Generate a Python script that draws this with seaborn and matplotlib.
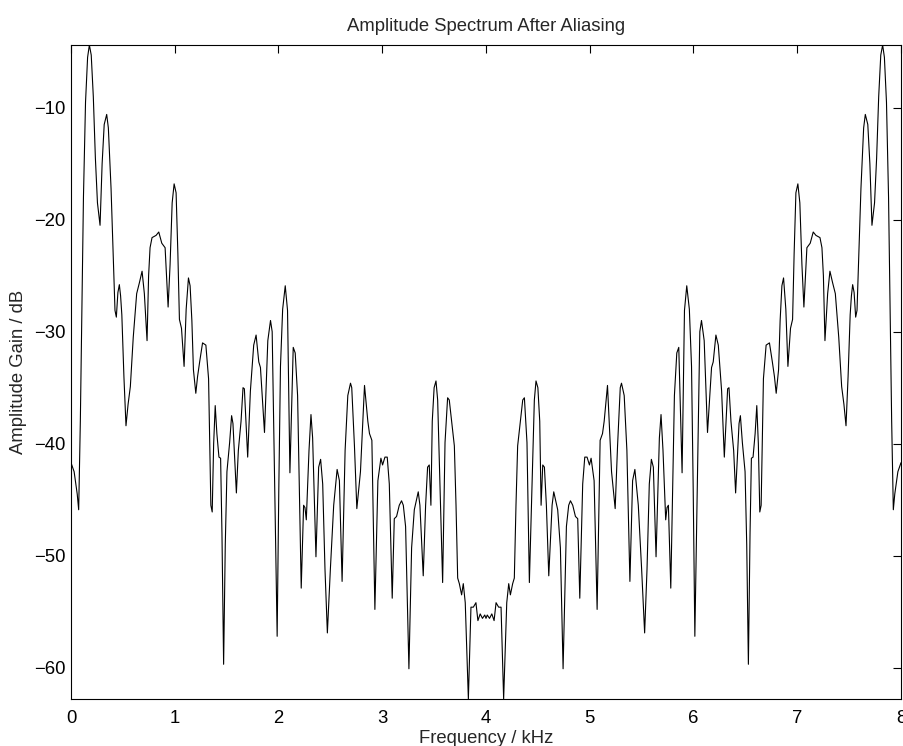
import numpy as np
import pandas as pd
import matplotlib
matplotlib.use("Agg")
import matplotlib.pyplot as plt
import seaborn as sns

# ---- data (kHz, dB) ----
freq_low = [0.000, 0.030, 0.060, 0.074, 0.090, 0.105, 0.120, 0.140, 0.160, 0.177,
            0.195, 0.215, 0.235, 0.255, 0.280, 0.300, 0.320, 0.344, 0.360, 0.386,
            0.410, 0.424, 0.437, 0.452, 0.466, 0.478, 0.490, 0.510, 0.530, 0.550,
            0.572, 0.600, 0.633, 0.660, 0.685, 0.707, 0.733, 0.748, 0.762, 0.781,
            0.820, 0.846, 0.875, 0.907, 0.936, 0.955, 0.975, 0.994, 1.013, 1.030,
            1.045, 1.065, 1.090, 1.110, 1.132, 1.148, 1.165, 1.180, 1.203, 1.220,
            1.240, 1.268, 1.300, 1.326, 1.348, 1.361, 1.375, 1.390, 1.406, 1.426,
            1.442, 1.455, 1.471, 1.487, 1.503, 1.529, 1.548, 1.561, 1.594, 1.613,
            1.639, 1.658, 1.671, 1.703, 1.729, 1.761, 1.784, 1.810, 1.826, 1.865,
            1.897, 1.923, 1.939, 1.960, 1.987, 2.003, 2.019, 2.040, 2.065, 2.087,
            2.110, 2.142, 2.161, 2.184, 2.219, 2.242, 2.255, 2.268, 2.294, 2.313,
            2.329, 2.361, 2.387, 2.406, 2.426, 2.448, 2.471, 2.500, 2.532, 2.565,
            2.587, 2.613, 2.642, 2.668, 2.694, 2.706, 2.732, 2.755, 2.790, 2.829,
            2.861, 2.877, 2.900, 2.929, 2.958, 2.987, 3.003, 3.026, 3.048, 3.068,
            3.096, 3.116, 3.138, 3.164, 3.186, 3.203, 3.225, 3.257, 3.283, 3.309,
            3.347, 3.363, 3.395, 3.418, 3.437, 3.453, 3.469, 3.482, 3.500, 3.518,
            3.534, 3.560, 3.582, 3.605, 3.630, 3.646, 3.669, 3.695, 3.711, 3.727,
            3.743, 3.765, 3.781, 3.800, 3.830, 3.855, 3.878, 3.903, 3.922, 3.944,
            3.966, 3.988, 4.000]
gain_low = [-41.7, -42.5, -44.5, -45.9, -38.0, -28.0, -18.0, -9.5, -5.5, -4.4,
            -5.3, -9.0, -14.5, -18.5, -20.5, -15.0, -11.5, -10.6, -11.8, -17.2,
            -24.0, -28.1, -28.7, -26.5, -25.8, -26.8, -28.5, -34.0, -38.4, -36.5,
            -34.9, -30.5, -26.6, -25.6, -24.6, -26.6, -30.8, -25.0, -22.5, -21.6,
            -21.4, -21.1, -22.1, -22.5, -27.8, -24.0, -18.5, -16.8, -17.6, -23.0,
            -28.9, -29.7, -33.1, -28.0, -25.2, -25.9, -29.0, -33.4, -35.5, -34.0,
            -32.7, -31.0, -31.2, -34.2, -45.5, -46.1, -40.0, -36.6, -39.1, -41.2,
            -41.3, -48.0, -59.7, -49.0, -42.5, -39.9, -37.5, -38.2, -44.4, -40.6,
            -38.0, -35.0, -35.1, -41.2, -35.3, -31.2, -30.3, -32.7, -33.2, -39.0,
            -30.8, -29.0, -30.0, -42.0, -57.2, -44.0, -33.1, -28.0, -25.9, -28.1,
            -42.6, -31.4, -31.9, -35.7, -52.9, -45.5, -45.7, -46.8, -40.6, -37.4,
            -39.5, -50.1, -42.1, -41.4, -43.6, -51.2, -56.9, -51.2, -45.5, -42.3,
            -43.3, -52.3, -40.6, -35.7, -34.6, -35.0, -40.2, -45.8, -42.5, -34.8,
            -38.0, -39.1, -39.7, -54.8, -43.3, -41.3, -41.9, -41.2, -41.2, -43.6,
            -53.8, -46.7, -46.5, -45.5, -45.1, -45.5, -47.4, -60.1, -49.3, -45.9,
            -44.3, -45.5, -51.8, -45.5, -42.1, -41.9, -45.5, -38.0, -35.0, -34.4,
            -36.1, -45.0, -52.4, -39.9, -35.9, -36.1, -38.0, -40.2, -45.5, -52.0,
            -52.5, -53.5, -52.5, -54.2, -62.8, -54.6, -54.6, -54.2, -55.8, -55.2,
            -55.6, -55.3, -55.6]

freq_high = [4.012, 4.034, 4.056, 4.078, 4.097, 4.122, 4.145, 4.170, 4.200, 4.219,
             4.235, 4.257, 4.273, 4.289, 4.305, 4.331, 4.354, 4.370, 4.395, 4.418,
             4.440, 4.466, 4.482, 4.500, 4.518, 4.531, 4.547, 4.563, 4.582, 4.605,
             4.637, 4.653, 4.691, 4.717, 4.743, 4.775, 4.797, 4.814, 4.836, 4.862,
             4.884, 4.904, 4.932, 4.952, 4.974, 4.997, 5.013, 5.042, 5.071, 5.100,
             5.123, 5.139, 5.171, 5.210, 5.245, 5.268, 5.294, 5.306, 5.332, 5.358,
             5.387, 5.413, 5.435, 5.468, 5.500, 5.529, 5.552, 5.574, 5.594, 5.613,
             5.639, 5.671, 5.687, 5.706, 5.732, 5.745, 5.758, 5.781, 5.816, 5.839,
             5.858, 5.890, 5.913, 5.935, 5.960, 5.981, 5.997, 6.013, 6.040, 6.061,
             6.077, 6.103, 6.135, 6.174, 6.190, 6.216, 6.239, 6.271, 6.297, 6.329,
             6.342, 6.361, 6.387, 6.406, 6.439, 6.452, 6.471, 6.497, 6.513, 6.529,
             6.545, 6.558, 6.574, 6.594, 6.610, 6.625, 6.639, 6.652, 6.674, 6.700,
             6.732, 6.760, 6.780, 6.797, 6.820, 6.835, 6.852, 6.868, 6.890, 6.910,
             6.935, 6.955, 6.970, 6.987, 7.006, 7.025, 7.045, 7.064, 7.093, 7.125,
             7.154, 7.180, 7.219, 7.238, 7.252, 7.267, 7.293, 7.315, 7.340, 7.367,
             7.400, 7.428, 7.450, 7.470, 7.490, 7.510, 7.522, 7.534, 7.548, 7.563,
             7.576, 7.590, 7.614, 7.640, 7.656, 7.680, 7.700, 7.720, 7.745, 7.765,
             7.785, 7.805, 7.823, 7.840, 7.860, 7.880, 7.895, 7.910, 7.926, 7.940,
             7.970, 8.000]
gain_high = [-55.3, -55.6, -55.2, -55.8, -54.2, -54.6, -54.6, -62.8, -54.2, -52.5,
             -53.5, -52.5, -52.0, -45.5, -40.2, -38.0, -36.1, -35.9, -39.9, -52.4,
             -45.0, -36.1, -34.4, -35.0, -38.0, -45.5, -41.9, -42.1, -45.5, -51.8,
             -45.5, -44.3, -45.9, -49.3, -60.1, -47.4, -45.5, -45.1, -45.5, -46.5,
             -46.7, -53.8, -43.6, -41.2, -41.2, -41.9, -41.3, -43.3, -54.8, -39.7,
             -39.1, -38.0, -34.8, -42.5, -45.8, -40.2, -35.0, -34.6, -35.7, -40.6,
             -52.3, -43.3, -42.3, -45.5, -51.2, -56.9, -51.2, -43.6, -41.4, -42.1,
             -50.1, -39.5, -37.4, -40.6, -46.8, -45.7, -45.5, -52.9, -35.7, -31.9,
             -31.4, -42.6, -28.1, -25.9, -28.0, -33.1, -44.0, -57.2, -42.0, -30.0,
             -29.0, -30.8, -39.0, -33.2, -32.7, -30.3, -31.2, -35.3, -41.2, -35.1,
             -35.0, -38.0, -40.6, -44.4, -38.2, -37.5, -39.9, -42.5, -49.0, -59.7,
             -48.0, -41.3, -41.2, -39.1, -36.6, -40.0, -46.1, -45.5, -34.2, -31.2,
             -31.0, -32.7, -34.0, -35.5, -33.4, -29.0, -25.9, -25.2, -28.0, -33.1,
             -29.7, -28.9, -23.0, -17.6, -16.8, -18.5, -24.0, -27.8, -22.5, -22.1,
             -21.1, -21.4, -21.6, -22.5, -25.0, -30.8, -26.6, -24.6, -25.6, -26.6,
             -30.5, -34.9, -36.5, -38.4, -34.0, -28.5, -26.8, -25.8, -26.5, -28.7,
             -28.1, -24.0, -17.2, -11.8, -10.6, -11.5, -15.0, -20.5, -18.5, -14.5,
             -9.0, -5.3, -4.4, -5.5, -9.5, -18.0, -28.0, -38.0, -45.9, -44.5,
             -42.5, -41.7]

x_ticks = [0, 1, 2, 3, 4, 5, 6, 7, 8]
y_ticks = [-60, -50, -40, -30, -20, -10]

freq = freq_low + freq_high
gain = gain_low + gain_high
df = pd.DataFrame({"Frequency": freq, "Gain": gain})

sns.set_theme(style="white")
plt.rcParams['font.family'] = ['Liberation Sans', 'DejaVu Sans']

W, H = 904, 746
FS = 13.3
fig = plt.figure(figsize=(W / 100, H / 100), dpi=100)
ax = fig.add_axes([71 / W, 1 - 699 / H, 830 / W, 654 / H])

sns.lineplot(data=df, x="Frequency", y="Gain", ax=ax, color="black",
             linewidth=0.8, estimator=None, sort=False)

ax.set_xlim(0, 8)
ax.set_ylim(min(gain), max(gain))
ax.set_xticks(x_ticks)
ax.set_xticklabels([str(t) for t in x_ticks])
ax.set_yticks(y_ticks)
ax.set_yticklabels(["\u2212" + str(abs(t)) for t in y_ticks])

ax.tick_params(axis='both', direction='in', length=5.8, width=0.8,
               top=True, right=True, labelsize=FS, colors='black')
ax.tick_params(axis='x', pad=8)
ax.tick_params(axis='y', pad=4)
for s in ax.spines.values():
    s.set_visible(True)
    s.set_color('black')
    s.set_linewidth(0.8)

ax.set_title("Amplitude Spectrum After Aliasing", fontsize=FS, pad=10)
ax.set_xlabel("Frequency / kHz", fontsize=FS, labelpad=2)
ax.set_ylabel("Amplitude Gain / dB", fontsize=FS, labelpad=5)
ax.grid(False)

fig.savefig("out.png", dpi=100)
